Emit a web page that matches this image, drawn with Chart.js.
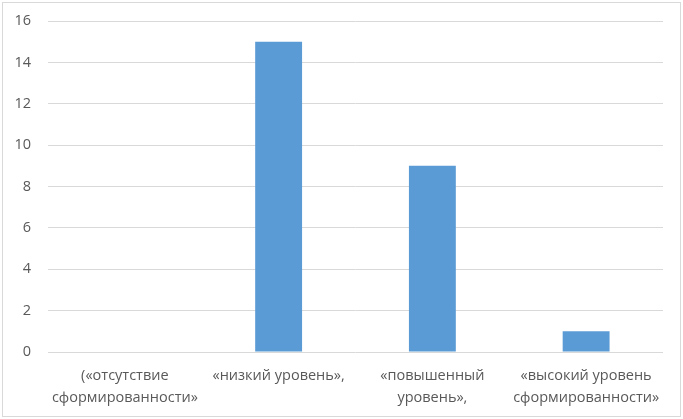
<!DOCTYPE html>
<html>
<head>
<meta charset="utf-8">
<script src="https://cdn.jsdelivr.net/npm/chart.js@4"></script>
<style>
  html, body { margin: 0; padding: 0; background: #fff; }
  #wrap { width: 683px; height: 419px; position: relative; }
</style>
</head>
<body>
<div id="wrap"><canvas id="levelChart" width="683" height="419"></canvas></div>
<script>
(function() {
    // категории (подписи по оси X, по строкам)
    const categories = [
        ['(«отсутствие', 'сформированности»'],
        ['«низкий уровень»,'],
        ['«повышенный', 'уровень»,'],
        ['«высокий уровень', 'сформированности»']
    ];
    // значения столбцов
    const values = [0, 15, 9, 1];
    // деления оси Y
    const yMin = 0;
    const yMax = 16;
    const yStep = 2;

    // рамка вокруг всей диаграммы
    const framePlugin = {
        id: 'frame',
        beforeDraw(chart) {
            const c = chart.ctx;
            c.save();
            c.fillStyle = '#ffffff';
            c.fillRect(0, 0, chart.width, chart.height);
            c.strokeStyle = '#d9d9d9';
            c.lineWidth = 1;
            c.strokeRect(2.5, 2.5, chart.width - 5, chart.height - 5);
            c.restore();
        }
    };

    const ctx = document.getElementById('levelChart').getContext('2d');
    new Chart(ctx, {
        type: 'bar',
        data: {
            labels: categories,
            datasets: [{
                data: values,
                backgroundColor: '#5b9bd5',
                borderWidth: 0,
                barPercentage: 0.305,
                categoryPercentage: 1
            }]
        },
        options: {
            responsive: false,
            animation: false,
            devicePixelRatio: 1,
            layout: { padding: { top: 21, right: 20, left: 0, bottom: 0 } },
            plugins: {
                legend: { display: false },
                tooltip: { enabled: false }
            },
            scales: {
                x: {
                    grid: { display: false, drawTicks: false },
                    border: { display: false },
                    ticks: {
                        color: '#595959',
                        font: { family: 'Open Sans', size: 14.5, lineHeight: 1.5 },
                        padding: 13,
                        maxRotation: 0,
                        autoSkip: false
                    },
                    afterFit(scale) { scale.height = 67; }
                },
                y: {
                    min: yMin,
                    max: yMax,
                    grid: { color: '#d9d9d9', drawTicks: false },
                    border: { display: false },
                    ticks: {
                        stepSize: yStep,
                        color: '#595959',
                        font: { family: 'Open Sans', size: 14.5 },
                        padding: 17
                    },
                    afterFit(scale) {
                        scale.width = 48;
                        scale.paddingTop = 0;
                        scale.paddingBottom = 0;
                    }
                }
            }
        },
        plugins: [framePlugin]
    });
})();
</script>
</body>
</html>
